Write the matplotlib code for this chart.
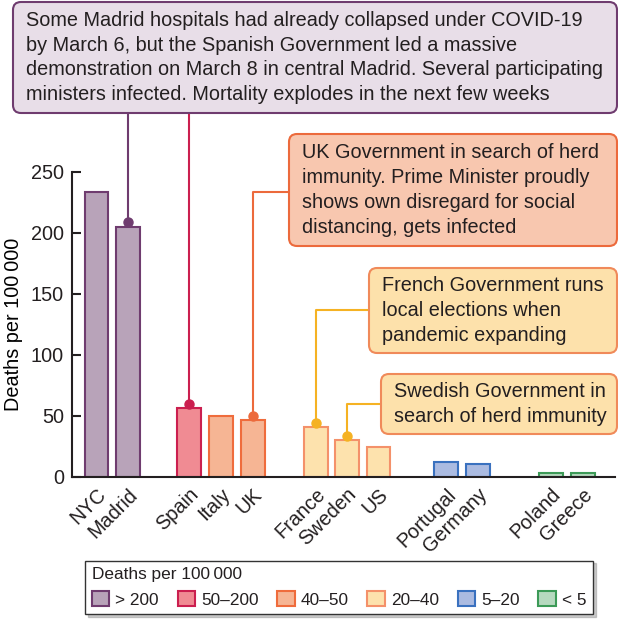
import matplotlib
matplotlib.use("Agg")
import matplotlib.pyplot as plt
from matplotlib.patches import FancyBboxPatch, Patch
from matplotlib.lines import Line2D
from matplotlib.transforms import Affine2D

plt.rcParams['font.family'] = ['Liberation Sans', 'DejaVu Sans']
plt.rcParams['font.size'] = 14.3
plt.rcParams['text.color'] = '#231f20'

# data
places = ['NYC', 'Madrid', 'Spain', 'Italy', 'UK', 'France', 'Sweden', 'US',
          'Portugal', 'Germany', 'Poland', 'Greece']
deaths = [233, 205, 56, 50, 46, 40.5, 30, 24, 12, 10, 2.8, 2.8]
group_of = [0, 0, 1, 2, 2, 3, 3, 3, 4, 4, 5, 5]
groups = ['> 200', '50\u2013200', '40\u201350', '20\u201340', '5\u201320', '< 5']
fills = ['#b8a3b9', '#f08b93', '#f6b594', '#fde2ad', '#abbbe1', '#b6d9bf']
edges = ['#6f3c6f', '#cb1f4f', '#ef6c3c', '#f4916a', '#3a71bf', '#3c9a57']

notes = [
    "Some Madrid hospitals had already collapsed under COVID-19\n"
    "by March 6, but the Spanish Government led a massive\n"
    "demonstration on March 8 in central Madrid. Several participating\n"
    "ministers infected. Mortality explodes in the next few weeks",
    "UK Government in search of herd\nimmunity. Prime Minister proudly\n"
    "shows own disregard for social\ndistancing, gets infected",
    "French Government runs\nlocal elections when\npandemic expanding",
    "Swedish Government in\nsearch of herd immunity",
]

# layout (pixels of the 618x621 picture, origin top-left)
W, H = 618, 621
xpos = [0, 1, 2.92, 3.92, 4.92, 6.9, 7.88, 8.88, 11, 12, 14.3, 15.3]
note_boxes = [(13, 2, 617, 113), (289, 134, 617, 246),
              (369, 268, 617, 353), (381, 374, 617, 434)]
note_fill = ['#e8dee8', '#f8c7af', '#fde1ab', '#fde1ab']
note_edge = ['#6f3c6f', '#ec6a3c', '#f08a5a', '#f08a5a']
# place, y of bend (px), x of box edge (px) or None, colour
links = [('Madrid', 113, None, '#6f3c6f'), ('Spain', 113, None, '#cb1f4f'),
         ('UK', 191.7, 289, '#ec6a3c'), ('France', 310, 369, '#f5b223'),
         ('Sweden', 404, 381, '#f5b223')]

fig = plt.figure(figsize=(W / 100, H / 100), dpi=100)
ax = fig.add_axes([71.7 / W, 1 - 476.5 / H, 543.3 / W, 304.8 / H])
px = Affine2D().scale(1 / W, -1 / H).translate(0, 1) + fig.transFigure

for x, v, g in zip(xpos, deaths, group_of):
    ax.bar(x, v, width=0.74, color=fills[g], edgecolor=edges[g],
           linewidth=1.5, zorder=2)

ax.set_xlim(-0.774, 16.31)
ax.set_ylim(0, 250)
ax.set_yticks([0, 50, 100, 150, 200, 250])
ax.set_xticks(xpos)
ax.set_xticklabels(places, rotation=45, ha='right', va='top',
                   rotation_mode='anchor')
for lab in ax.get_xticklabels():
    lab.set_transform(lab.get_transform() + Affine2D().translate(6, 0))
ax.tick_params(axis='x', length=0, pad=6, labelsize=14.3, colors='#231f20')
ax.tick_params(axis='y', direction='in', length=6.5, width=1.5, pad=5.5,
               labelsize=14.3, colors='#231f20')
for s in ['top', 'right']:
    ax.spines[s].set_visible(False)
for s in ['left', 'bottom']:
    ax.spines[s].set_linewidth(1.5)
    ax.spines[s].set_color('#231f20')
ax.spines['left'].set_bounds(0, 250)
ax.set_ylabel('Deaths per 100\u2009000', fontsize=14.3, labelpad=6)

# connector lines and dots
fig.canvas.draw()
for name, ybend, xedge, col in links:
    i = places.index(name)
    xd, yd = xpos[i], deaths[i] + 3.5
    X, Y = ax.transData.transform((xd, yd))
    Y = H - Y
    xs, ys = [X, X], [Y, ybend]
    if xedge is not None:
        xs.append(xedge)
        ys.append(ybend)
    fig.add_artist(Line2D(xs, ys, transform=px, color=col, lw=1.5, zorder=3))
    ax.plot([xd], [yd], 'o', color=col, ms=6.5, zorder=4, clip_on=False)

# note boxes
for txt, (x0, y0, x1, y1), fc, ec in zip(notes, note_boxes, note_fill, note_edge):
    box = FancyBboxPatch((x0, y0), x1 - x0, y1 - y0,
                         boxstyle='round,pad=0,rounding_size=8',
                         transform=px, facecolor=fc, edgecolor=ec,
                         linewidth=1.5, zorder=5)
    fig.add_artist(box)
    fig.text(x0 + 13, (y0 + y1) / 2, txt, transform=px, ha='left',
             va='center', fontsize=14.3, linespacing=1.38, zorder=6)

handles = [Patch(facecolor=fills[i], edgecolor=edges[i], linewidth=1.5,
                 label=groups[i]) for i in range(len(groups))]
leg = fig.legend(handles=handles, title='Deaths per 100\u2009000', ncol=6,
                 loc='center', bbox_to_anchor=(339 / W, 1 - 587.5 / H),
                 fontsize=12.4, title_fontsize=12.4, fancybox=False,
                 edgecolor='#333333', alignment='left', handlelength=1.0,
                 handleheight=1.0, handletextpad=0.35, columnspacing=1.1,
                 borderpad=0.4, borderaxespad=0,
                 shadow={'color': '0.6'})
leg.get_frame().set_linewidth(1.0)

fig.savefig('out.png', dpi=100)
